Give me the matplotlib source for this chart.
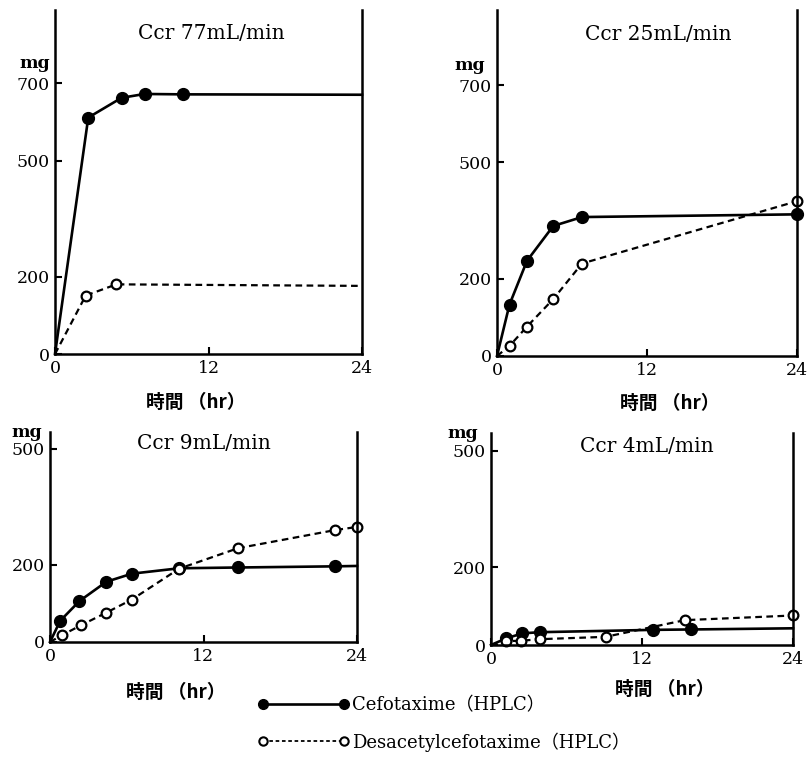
import numpy as np
import matplotlib.pyplot as plt
from matplotlib.lines import Line2D

# Ccr 77 mL/min
t77_cef = [0, 2.6, 5.2, 7.0, 10.0, 24]
mg77_cef = [0, 611, 662, 672, 671, 670]
t77_des = [0, 2.4, 4.8, 24]
mg77_des = [0, 151, 180, 176]

# Ccr 25 mL/min
t25_cef = [0, 1.0, 2.4, 4.5, 6.8, 24]
mg25_cef = [0, 133, 246, 336, 359, 366]
t25_des = [0, 1.0, 2.4, 4.5, 6.8, 24]
mg25_des = [0, 26, 76, 147, 239, 400]

# Ccr 9 mL/min
t9_cef = [0, 0.8, 2.3, 4.4, 6.4, 10.1, 14.7, 22.3, 24]
mg9_cef = [0, 55, 106, 156, 177, 191, 193, 196, 197]
t9_des = [0, 0.9, 2.4, 4.4, 6.4, 10.1, 14.7, 22.3, 24]
mg9_des = [0, 17, 43, 76, 110, 190, 243, 290, 298]

# Ccr 4 mL/min
t4_cef = [0, 1.2, 2.5, 3.9, 12.9, 15.9, 24]
mg4_cef = [0, 17, 30, 33, 39, 40, 43]
t4_des = [0, 1.2, 2.4, 3.9, 9.1, 15.4, 24]
mg4_des = [0, 10, 11, 15, 21, 64, 76]

titles = ['Ccr 77mL/min', 'Ccr 25mL/min', 'Ccr 9mL/min', 'Ccr 4mL/min']
yticks_top = [0, 200, 500, 700]
yticks_bot = [0, 200, 500]
xticks = [0, 12, 24]

serif = ['DejaVu Serif', 'Noto Sans CJK JP']
cjk = ['Noto Sans CJK JP', 'DejaVu Sans']

fig = plt.figure(figsize=(8.11, 7.78), dpi=100)
W, H = 811, 778


def make_ax(x0, x1, y0, ytop, ymax, ticks):
    # pixel box -> figure fraction
    ax = fig.add_axes([x0 / W, (H - y0) / H, (x1 - x0) / W, (y0 - ytop) / H])
    ax.set_xlim(0, 24)
    ax.set_ylim(0, ymax)
    ax.spines['top'].set_visible(False)
    for s in ['left', 'right', 'bottom']:
        ax.spines[s].set_linewidth(1.8)
    ax.set_xticks(xticks)
    ax.set_yticks(ticks)
    ax.tick_params(direction='in', length=5, width=1.5, labelsize=12.5, pad=4)
    for lab in ax.get_xticklabels() + ax.get_yticklabels():
        lab.set_family(serif)
    return ax


def draw(ax, t1, m1, t2, m2, end1, end2):
    e1 = slice(1, None) if end1 else slice(1, -1)
    e2 = slice(1, None) if end2 else slice(1, -1)
    ax.plot(t1, m1, '-', color='black', lw=1.9, marker='o', ms=8.5,
            mfc='black', mec='black', markevery=e1, clip_on=False)
    ax.plot(t2, m2, '--', color='black', lw=1.6, dashes=(3, 2), marker='o', ms=7,
            mfc='white', mec='black', mew=1.6, markevery=e2, clip_on=False)


ax1 = make_ax(55, 362, 354, 10, 889, yticks_top)
draw(ax1, t77_cef, mg77_cef, t77_des, mg77_des, False, False)
ax2 = make_ax(497, 797, 356, 10, 894, yticks_top)
draw(ax2, t25_cef, mg25_cef, t25_des, mg25_des, True, True)
ax3 = make_ax(50, 357, 642, 432, 544, yticks_bot)
draw(ax3, t9_cef, mg9_cef, t9_des, mg9_des, False, True)
ax4 = make_ax(491, 793, 645, 433, 546, yticks_bot)
draw(ax4, t4_cef, mg4_cef, t4_des, mg4_des, False, True)
axes = [ax1, ax2, ax3, ax4]

title_pos = [(0.51, 0.933), (0.537, 0.928), (0.5, 0.943), (0.517, 0.934)]
xlab_pos = [(0.46, -0.14), (0.577, -0.136), (0.41, -0.238), (0.576, -0.212)]
for ax, title, (tx, ty), (lx, ly) in zip(axes, titles, title_pos, xlab_pos):
    ax.text(tx, ty, title, transform=ax.transAxes, ha='center', va='center',
            family=serif, fontsize=14.5)
    ax.text(lx, ly, '時間 （hr）', transform=ax.transAxes, ha='center', va='center',
            family=cjk, fontweight='bold', fontsize=13.5)

# "mg" unit labels
for x, y in [(35, 63), (470, 65), (27, 432), (463, 433)]:
    fig.text(x / W, 1 - y / H, 'mg', ha='center', va='center', family=serif,
             fontsize=12.5, fontweight='bold')

handles = [
    Line2D([0], [0], color='black', lw=1.9, marker='o', ms=7, mfc='black', mec='black'),
    Line2D([0], [0], color='black', lw=1.3, ls='--', dashes=(2, 1.5), marker='o', ms=6,
           mfc='white', mec='black', mew=1.5),
]
leg = fig.legend(handles, ['Cefotaxime（HPLC）', 'Desacetylcefotaxime（HPLC）'],
                 loc='center left', bbox_to_anchor=(241 / W, 1 - 724 / H), frameon=False,
                 numpoints=2, handlelength=5.13, handletextpad=0.1, labelspacing=1.0,
                 prop={'family': serif, 'size': 13})

fig.savefig('out.png', dpi=100)
